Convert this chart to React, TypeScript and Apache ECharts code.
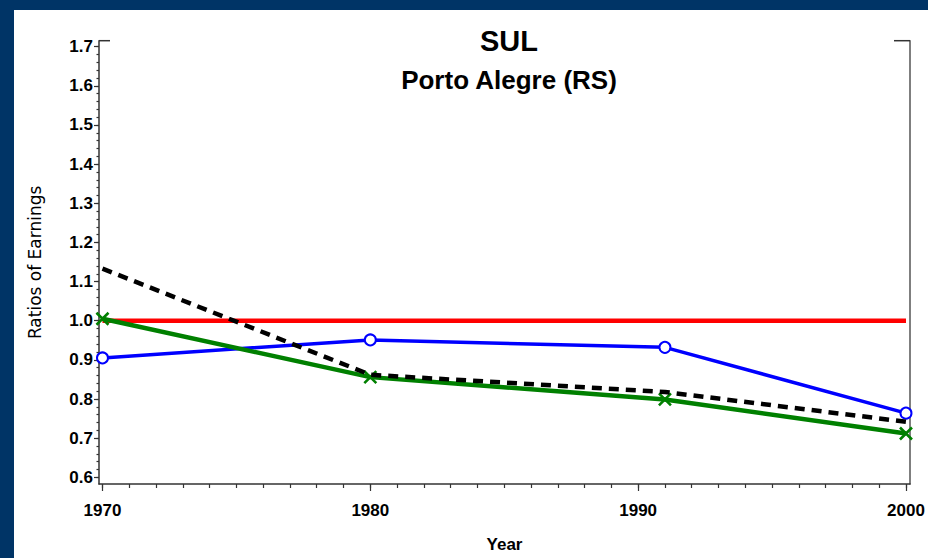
import React, { useEffect, useRef } from "react";
import * as echarts from "echarts";

const years = [1970, 1980, 1991, 2000];
const reference = [1.0, 1.0, 1.0, 1.0];
const blueSeries = [0.905, 0.951, 0.932, 0.764];
const greenSeries = [1.005, 0.856, 0.799, 0.712];
const blackSeries = [1.133, 0.862, 0.818, 0.742];

const yMajorTicks = [0.6, 0.7, 0.8, 0.9, 1.0, 1.1, 1.2, 1.3, 1.4, 1.5, 1.6, 1.7];
const xMajorTicks = [1970, 1980, 1990, 2000];

const titleText = "SUL";
const subtitleText = "Porto Alegre (RS)";
const yTitle = "Ratios of Earnings";
const xTitle = "Year";

const yMinor: number[] = [];
for (let i = 0; i <= 55; i++) yMinor.push(Math.round((0.6 + i * 0.02) * 1000) / 1000);
const xMinor: number[] = [];
for (let y = 1970; y <= 2000; y++) xMinor.push(y);

const FONT = "Liberation Sans, Arial, sans-serif";
const NAVY = "#003466";

export default function App() {
  const ref = useRef<HTMLDivElement>(null);
  useEffect(() => {
    if (!ref.current) return;
    const chart = echarts.init(ref.current, null, { renderer: "svg", width: 914, height: 548 });
    const pair = (vals: number[]) => years.map((y, i) => [y, vals[i]]);
    const axisLine = { show: true, lineStyle: { color: "#333", width: 1.5 } };
    chart.setOption({
      animation: false,
      backgroundColor: "#ffffff",
      title: [
        {
          text: titleText,
          left: 490,
          top: 11,
          textAlign: "center",
          textStyle: { fontFamily: FONT, fontSize: 29, fontWeight: "bold", color: "#000" },
        },
        {
          text: subtitleText,
          left: 490,
          top: 52,
          textAlign: "center",
          textStyle: { fontFamily: FONT, fontSize: 26, fontWeight: "bold", color: "#000" },
        },
      ],
      grid: { left: 85, right: 18, top: 30.7, bottom: 66.3, containLabel: false },
      xAxis: [
        {
          type: "value",
          position: "bottom",
          min: 1969.87,
          max: 2000.15,
          axisLine,
          axisTick: { show: true, customValues: xMinor, length: 4, lineStyle: { color: "#333", width: 1.2 } },
          axisLabel: {
            show: true,
            customValues: xMajorTicks,
            margin: 18,
            fontFamily: FONT,
            fontSize: 17,
            fontWeight: "bold",
            color: "#000",
            formatter: (v: number) => String(v),
          },
          splitLine: { show: false },
          name: xTitle,
          nameLocation: "middle",
          nameGap: 52,
          nameTextStyle: { fontFamily: FONT, fontSize: 17, fontWeight: "bold", color: "#000" },
        },
        {
          type: "value",
          position: "bottom",
          min: 1969.87,
          max: 2000.15,
          axisLine: { show: false },
          axisTick: { show: true, customValues: xMajorTicks, length: 7, lineStyle: { color: "#333", width: 1.2 } },
          axisLabel: { show: false },
          splitLine: { show: false },
        },
      ],
      yAxis: [
        {
          type: "value",
          position: "left",
          min: 0.583,
          max: 1.7153,
          axisLine,
          axisTick: { show: true, customValues: yMinor, length: 2.5, lineStyle: { color: "#333", width: 1.2 } },
          axisLabel: {
            show: true,
            customValues: yMajorTicks,
            margin: 6,
            fontFamily: FONT,
            fontSize: 17,
            fontWeight: "bold",
            color: "#000",
            formatter: (v: number) => v.toFixed(1),
          },
          splitLine: { show: false },
          name: yTitle,
          nameLocation: "middle",
          nameGap: 56,
          nameRotate: 90,
          nameTextStyle: { fontFamily: "DejaVu Sans, sans-serif", fontSize: 17, color: "#000" },
        },
        {
          type: "value",
          position: "left",
          min: 0.583,
          max: 1.7153,
          axisLine: { show: false },
          axisTick: { show: true, customValues: yMajorTicks, length: 5, lineStyle: { color: "#333", width: 1.2 } },
          axisLabel: { show: false },
          splitLine: { show: false },
        },
        {
          type: "value",
          position: "right",
          min: 0.583,
          max: 1.7153,
          axisLine: { show: true, lineStyle: { color: "#555", width: 1.5 } },
          axisTick: { show: false },
          axisLabel: { show: false },
          splitLine: { show: false },
        },
      ],
      series: [
        {
          type: "line",
          data: pair(reference),
          symbol: "none",
          lineStyle: { color: "#ff0000", width: 4.5 },
          z: 2,
        },
        {
          type: "line",
          data: pair(blueSeries),
          symbol: "emptyCircle",
          symbolSize: 11,
          itemStyle: { color: "#0000ff", borderColor: "#0000ff", borderWidth: 2 },
          lineStyle: { color: "#0000ff", width: 3.5 },
          z: 3,
        },
        {
          type: "line",
          data: pair(greenSeries),
          symbol: "path://M0,0L10,10M10,0L0,10",
          symbolSize: 12,
          itemStyle: { color: "none", borderColor: "#008000", borderWidth: 2.6 },
          lineStyle: { color: "#008000", width: 4.5 },
          z: 4,
        },
        {
          type: "line",
          data: pair(blackSeries),
          symbol: "none",
          lineStyle: { color: "#000000", width: 4.5, type: [10, 7] },
          z: 5,
        },
      ],
      graphic: [
        { type: "line", shape: { x1: 85, y1: 30.7, x2: 96, y2: 30.7 }, style: { stroke: "#333", lineWidth: 1.5 }, z: 50 },
        { type: "line", shape: { x1: 880, y1: 30.7, x2: 896, y2: 30.7 }, style: { stroke: "#333", lineWidth: 1.5 }, z: 50 },
      ],
    });
    return () => chart.dispose();
  }, []);
  return (
    <div style={{ position: "fixed", left: 0, top: 0, width: 928, height: 558, background: "#ffffff", overflow: "hidden" }}>
      <div style={{ position: "absolute", left: 0, top: 0, width: 928, height: 10, background: NAVY }} />
      <div style={{ position: "absolute", left: 0, top: 0, width: 14, height: 558, background: NAVY }} />
      <div ref={ref} style={{ position: "absolute", left: 14, top: 10, width: 914, height: 548, background: "#ffffff" }} />
    </div>
  );
}
